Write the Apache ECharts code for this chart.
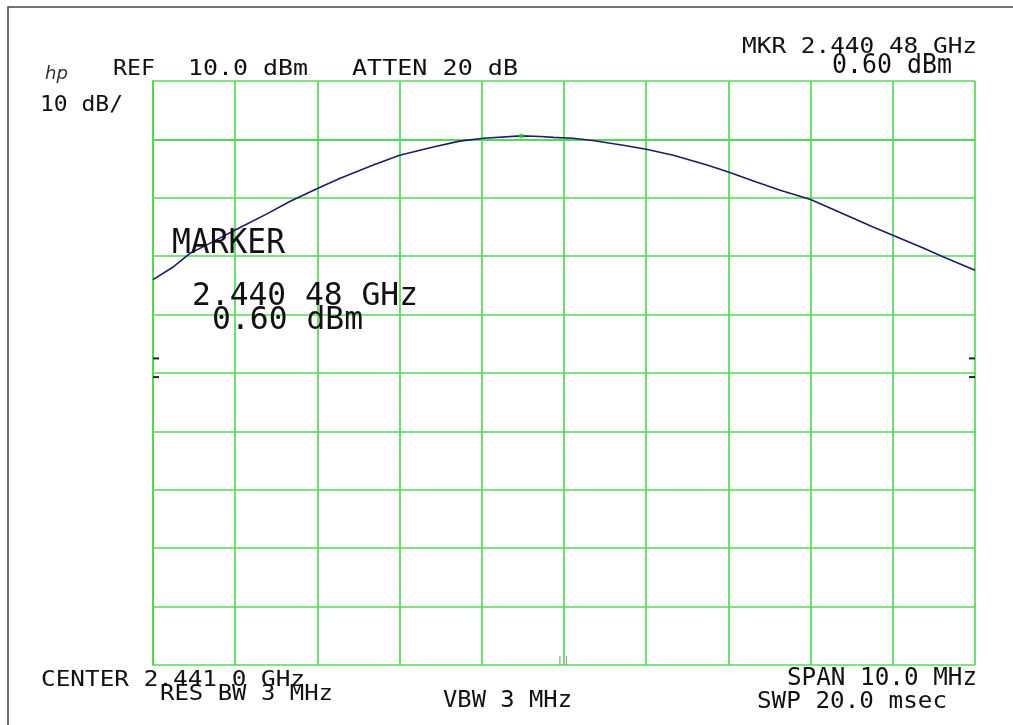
<!DOCTYPE html>
<html><head><meta charset="utf-8">
<script src="https://cdn.jsdelivr.net/npm/echarts@6/dist/echarts.min.js"></script>
<style>html,body{margin:0;padding:0;background:#fff}#c{width:1013px;height:725px}</style>
</head><body><div id="c"></div>
<script>
// ---- data (frequency in MHz, level in dBm) ----
const freqMHz = [2436.0, 2436.25, 2436.45, 2436.65, 2437.0, 2437.38, 2437.67, 2438.0, 2438.27, 2438.68, 2439.0, 2439.41, 2439.73, 2440.02, 2440.48, 2440.71, 2440.87, 2441.11, 2441.35, 2441.72, 2442.0, 2442.33, 2442.74, 2443.0, 2443.34, 2443.63, 2444.0, 2444.36, 2444.76, 2445.0, 2445.37, 2445.61, 2446.0];
const levelDbm = [-24.0, -21.8, -19.5, -18.1, -15.5, -12.8, -10.6, -8.4, -6.7, -4.4, -2.7, -1.3, -0.3, 0.2, 0.6, 0.5, 0.35, 0.2, -0.2, -1.0, -1.7, -2.7, -4.4, -5.6, -7.3, -8.7, -10.3, -12.5, -15.0, -16.4, -18.6, -20.1, -22.4];
const markerPoint = [2440.48, 0.60];
const freqRange = [2436, 2446];      // center 2441.0 GHz, span 10 MHz
const levelRange = [-90, 10];        // ref 10 dBm, 10 dB/div
const freqStep = 1;
const levelStep = 10;
const sideTickLevels = [-37.5, -40.7];
const bottomTickFreqs = [2440.95, 2441.03];
const labelTexts = ['REF', '10.0 dBm', 'ATTEN 20 dB', '10 dB/', 'MKR 2.440 48 GHz', '0.60 dBm',
  'MARKER', '2.440 48 GHz', '0.60 dBm', 'CENTER 2.441 0 GHz', 'RES BW 3 MHz', 'VBW 3 MHz',
  'SPAN 10.0 MHz', 'SWP 20.0 msec'];

// ---- layout (left, right, capTop, baseline) ----
const labelBoxes = [
  [113, 155, 62, 77], [188, 308, 62, 77], [352, 518, 62, 77], [40, 123, 98, 113],
  [742, 977, 40, 55], [832, 952, 56, 76],
  [172, 285, 232, 257], [192, 418, 285, 308], [212, 363, 309, 332],
  [41, 305, 672, 688], [160, 333, 686, 702], [443, 572, 692, 709],
  [787, 977, 670, 688], [757, 947, 693, 710]
];

const GREEN = '#50dc50';
const chart = echarts.init(document.getElementById('c'), null, {renderer: 'canvas'});
const axisCommon = {
  axisLabel: {show: false}, axisTick: {show: false},
  axisLine: {show: true, lineStyle: {color: GREEN, width: 2}},
  splitLine: {show: true, showMinLine: true, showMaxLine: true, lineStyle: {color: GREEN, width: 1.7}}
};
chart.setOption({
  animation: false,
  backgroundColor: '#ffffff',
  grid: {left: 153, top: 81, right: 38, bottom: 60, show: false},
  xAxis: Object.assign({type: 'value', min: freqRange[0], max: freqRange[1], interval: freqStep}, axisCommon),
  yAxis: Object.assign({type: 'value', min: levelRange[0], max: levelRange[1], interval: levelStep}, axisCommon),
  series: [
    {type: 'line', data: freqMHz.map((f, i) => [f, levelDbm[i]]), showSymbol: false, smooth: false,
     lineStyle: {color: '#1c1c6e', width: 1.6}, z: 3},
    {type: 'scatter', data: [markerPoint], symbol: 'circle', symbolSize: 5,
     itemStyle: {color: '#33cc33'}, z: 4}
  ]
});

const ctx = document.createElement('canvas').getContext('2d');
function fitText(text, box) {
  const [l, r, t, b] = box;
  const size = (b - t) / 0.729;
  const font = size.toFixed(1) + 'px "DejaVu Sans Mono"';
  ctx.font = font;
  const w = ctx.measureText(text).width;
  return {type: 'text', x: l, y: (t + b) / 2, scaleX: (r - l) / w, z: 10,
    style: {text: text, font: font, fill: '#111', align: 'left', verticalAlign: 'middle'}};
}
const graphics = [];
graphics.push({type: 'rect', shape: {x: 8, y: 7, width: 1100, height: 800},
  style: {fill: 'none', stroke: '#444', lineWidth: 1.5}, z: 0});
labelTexts.forEach((t, i) => graphics.push(fitText(t, labelBoxes[i])));
// hp logo
(function(){
  const font = 'italic 17px "DejaVu Sans"';
  ctx.font = font;
  const w = ctx.measureText('hp').width;
  graphics.push({type: 'text', x: 45, y: 75, scaleX: 23 / w, z: 10,
    style: {text: 'hp', font: font, fill: '#333', align: 'left', verticalAlign: 'middle'}});
})();
// side ticks
sideTickLevels.forEach(v => {
  const pL = chart.convertToPixel({gridIndex: 0}, [freqRange[0], v]);
  const pR = chart.convertToPixel({gridIndex: 0}, [freqRange[1], v]);
  graphics.push({type: 'line', shape: {x1: pL[0], y1: pL[1], x2: pL[0] + 6, y2: pL[1]},
    style: {stroke: '#222', lineWidth: 2}, z: 6});
  graphics.push({type: 'line', shape: {x1: pR[0] - 6, y1: pR[1], x2: pR[0], y2: pR[1]},
    style: {stroke: '#222', lineWidth: 2}, z: 6});
});
bottomTickFreqs.forEach(f => {
  const p = chart.convertToPixel({gridIndex: 0}, [f, levelRange[0]]);
  graphics.push({type: 'line', shape: {x1: p[0], y1: p[1] - 9, x2: p[0], y2: p[1]},
    style: {stroke: '#999', lineWidth: 1.2}, z: 6});
});
chart.setOption({graphic: graphics});
</script>
</body></html>
